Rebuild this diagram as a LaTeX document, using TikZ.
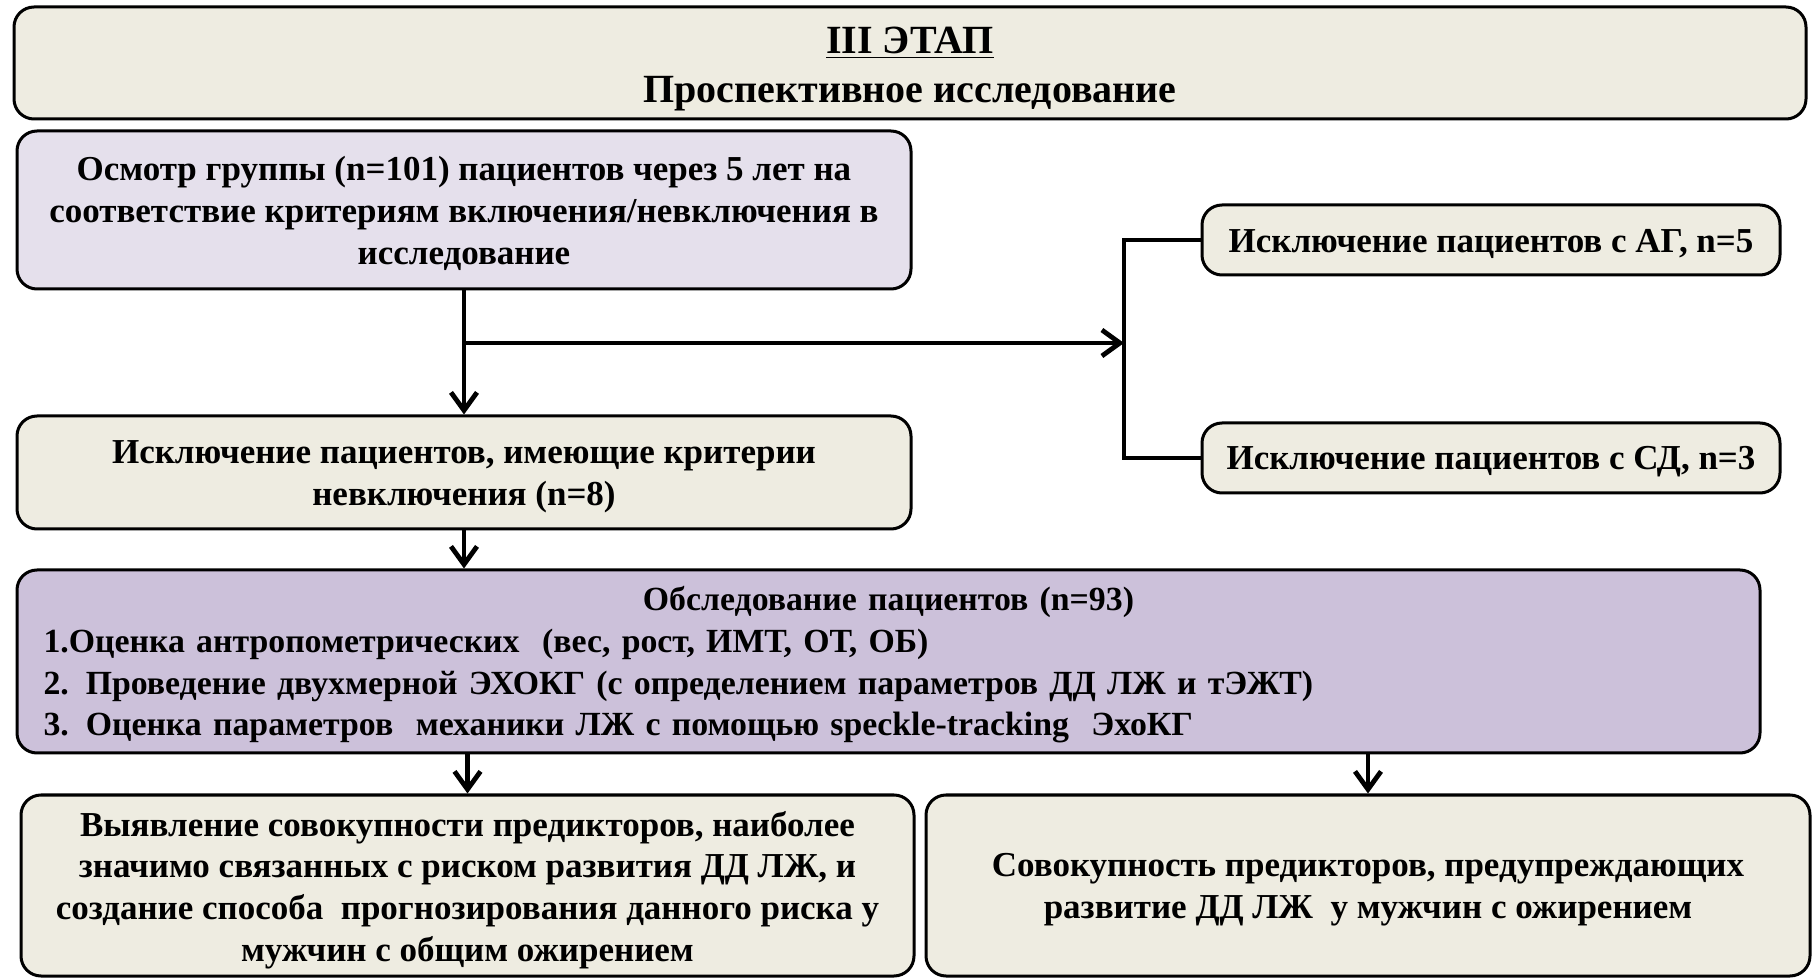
\documentclass[tikz,border=0pt]{standalone}
\usepackage{fontspec}
\setmainfont{Liberation Serif}
\usetikzlibrary{arrows.meta}
\definecolor{stagebeige}{RGB}{238,236,225}
\definecolor{stagelilac}{RGB}{229,224,236}
\definecolor{stagepurple}{RGB}{204,193,218}
\newcommand{\lowstrut}[1]{\rule{0pt}{#1}}

\begin{document}
\begin{tikzpicture}[x=0.5pt,y=-0.5pt,
    box/.style={draw=black,line width=1.5pt,rounded corners=10pt,fill=stagebeige,
      align=center,font=\fontsize{17.5}{20.8}\selectfont\bfseries,inner sep=0pt},
    arr/.style={line width=2.4pt,-{Straight Barb[length=9pt,width=13pt]}}]
  \useasboundingbox (0,0) rectangle (1812,978);
  % header
  \node[box,minimum width=896pt,minimum height=56pt,font=\fontsize{20}{24.5}\selectfont\bfseries]
    (stage) at (910,63) {\lowstrut{19.5pt}\underline{III ЭТАП}\\Проспективное исследование};
  % left column
  \node[box,fill=stagelilac,minimum width=447pt,minimum height=79pt]
    (exam) at (464,210) {\lowstrut{15.5pt}Осмотр группы (n=101) пациентов через 5 лет на\\соответствие критериям включения/невключения в\\исследование};
  \node[box,minimum width=447pt,minimum height=56.5pt]
    (excl) at (464,472.5) {\lowstrut{15.5pt}Исключение пациентов, имеющие критерии\\невключения (n=8)};
  % right column
  \node[box,minimum width=289pt,minimum height=35pt] (ag) at (1491,240) {\lowstrut{15.5pt}Исключение пациентов с АГ, n=5};
  \node[box,minimum width=289pt,minimum height=35pt] (sd) at (1491,458) {\lowstrut{15.5pt}Исключение пациентов с СД, n=3};
  % main examination
  \node[box,fill=stagepurple,minimum width=871.5pt,minimum height=91.5pt,text width=845pt,align=left,
    font=\fontsize{16.9}{20.8}\selectfont\bfseries]
    (study) at (888.5,661.5) {\lowstrut{15.5pt}\makebox[845pt]{Обследование пациентов (n=93)}\\
      1.Оценка антропометрических~ (вес, рост, ИМТ, ОТ, ОБ)\\
      2. Проведение двухмерной ЭХОКГ (с определением параметров ДД ЛЖ и тЭЖТ)\\
      3. Оценка параметров~ механики ЛЖ с помощью speckle-tracking~ ЭхоКГ};
  % results
  \node[box,minimum width=446.5pt,minimum height=90.5pt]
    (pred) at (467.5,885.5) {\lowstrut{17pt}Выявление совокупности предикторов, наиболее\\значимо связанных с риском развития ДД ЛЖ, и\\создание способа~ прогнозирования данного риска у\\мужчин с общим ожирением};
  \node[box,minimum width=442pt,minimum height=90.5pt]
    (prev) at (1368,885.5) {\lowstrut{15.5pt}Совокупность предикторов, предупреждающих\\развитие ДД ЛЖ~ у мужчин с ожирением};
  % connectors
  \coordinate (fork) at (1124,343);
  \draw[arr] (exam.south) -- (excl.north);
  \draw[arr] (exam.south |- fork) -- (fork);
  \draw[line width=2.4pt] (ag.west) -| (fork) |- (sd.west);
  \draw[arr] (excl.south) -- (excl.south |- study.north);
  \draw[arr] (pred.north |- study.south) -- (pred.north);
  \draw[arr] (prev.north |- study.south) -- (prev.north);
\end{tikzpicture}
\end{document}
